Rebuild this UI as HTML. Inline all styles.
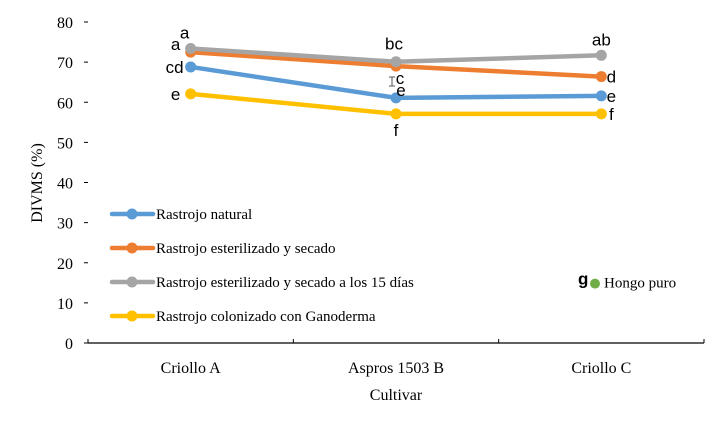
<!DOCTYPE html>
<html><head><meta charset="utf-8"><style>
body{margin:0;background:#fff;width:719px;height:429px;overflow:hidden}
svg{display:block}
.tk{font-family:"Liberation Serif",serif;font-size:16px;fill:#000}
.lg{font-family:"Liberation Serif",serif;font-size:15px;fill:#000}
.lt{font-family:"Liberation Sans",sans-serif;font-size:17px;fill:#000}
</style></head><body>
<svg id="chart" width="719" height="429"></svg>
<script>
const categories = ["Criollo A", "Aspros 1503 B", "Criollo C"];
const seriesNames = ["Rastrojo natural", "Rastrojo esterilizado y secado", "Rastrojo esterilizado y secado a los 15 días", "Rastrojo colonizado con Ganoderma"];
const natural = [68.8, 61.1, 61.6];
const esterilizado = [72.5, 69.0, 66.4];
const esterilizado15 = [73.4, 70.1, 71.7];
const colonizado = [62.1, 57.1, 57.1];
const letNatural = ["cd", "e", "e"];
const letEster = ["a", "c", "d"];
const letEster15 = ["a", "bc", "ab"];
const letColon = ["e", "f", "f"];
const yTicks = [0, 10, 20, 30, 40, 50, 60, 70, 80];
const hongoValue = 14.8;

const NS = "http://www.w3.org/2000/svg";
const svg = document.getElementById("chart");
const L = 88, R = 704, Y0 = 343, Y80 = 22;
const band = (R - L) / categories.length;
const x = i => L + band * (i + 0.5);
const y = v => Y0 - (v / 80) * (Y0 - Y80);
function mk(tag, attrs, parent) {
  const e = document.createElementNS(NS, tag);
  for (const k in attrs) e.setAttribute(k, attrs[k]);
  (parent || svg).appendChild(e);
  return e;
}
const yg = mk("g", {});


yTicks.forEach(t => {
  const tl = mk("text", {x: 73, y: y(t) + 6, "text-anchor": "end", class: "tk"}, yg);
  tl.textContent = t;
  
  
  mk("line", {x1: L - 4, x2: L, y1: y(t), y2: y(t), stroke: "#000", "stroke-width": 1}, yg);
});
const xg = mk("g", {});


mk("line", {x1: L, x2: R, y1: Y0, y2: Y0, stroke: "#000", "stroke-width": 1.3}, xg);
for (let i = 0; i <= categories.length; i++) {
  mk("line", {x1: L + band * i, x2: L + band * i, y1: Y0 - 4, y2: Y0, stroke: "#000", "stroke-width": 1}, xg);
}
categories.forEach((c, i) => {
  const t = mk("text", {x: x(i), y: 373, "text-anchor": "middle", class: "tk"}, xg);
  t.textContent = c;
  
  
});
const xt = mk("text", {x: 396, y: 400, "text-anchor": "middle", class: "tk", "font-size": "18"});
xt.textContent = "Cultivar";


const yt = mk("text", {x: 0, y: 0, "text-anchor": "middle", class: "tk", transform: "translate(42,183) rotate(-90)", "font-size": "18"});
yt.textContent = "DIVMS (%)";



const eb = mk("g", {stroke: "#555", "stroke-width": 1});


mk("line", {x1: 392, x2: 392, y1: 77, y2: 86}, eb);
mk("line", {x1: 389, x2: 395, y1: 77, y2: 77}, eb);
mk("line", {x1: 389, x2: 395, y1: 86, y2: 86}, eb);

const series = [
  {name: seriesNames[0], data: natural, color: "#5B9BD5", lab: letNatural, key: "natural"},
  {name: seriesNames[1], data: esterilizado, color: "#ED7D31", lab: letEster, key: "esterilizado"},
  {name: seriesNames[2], data: esterilizado15, color: "#A5A5A5", lab: letEster15, key: "esterilizado-15"},
  {name: seriesNames[3], data: colonizado, color: "#FFC000", lab: letColon, key: "colonizado"}
];
const offs = [
  [[-16, 6], [5, -2], [10, 6]],
  [[-15, -2], [4, 18], [10, 6]],
  [[-6, -10], [-2, -12], [0, -10]],
  [[-15, 6], [0, 22], [10, 6]]
];
series.forEach((s, si) => {
  const g = mk("g", {});
  
  
  mk("polyline", {points: s.data.map((v, i) => x(i) + "," + y(v)).join(" "), fill: "none", stroke: s.color, "stroke-width": 4.5, "stroke-linejoin": "round"}, g);
  s.data.forEach((v, i) => {
    const c = mk("circle", {cx: x(i), cy: y(v), r: 5.5, fill: s.color}, g);
    
    
  });
});
series.forEach((s, si) => {
  s.data.forEach((v, i) => {
    const o = offs[si][i];
    const t = mk("text", {x: x(i) + o[0], y: y(v) + o[1], "text-anchor": "middle", class: "lt"});
    t.textContent = s.lab[i];
    
    
  });
});
const lg = mk("g", {});


series.forEach((s, i) => {
  const ly = 214 + i * 34;
  const e = mk("g", {}, lg);
  
  
  mk("line", {x1: 112, x2: 153, y1: ly, y2: ly, stroke: s.color, "stroke-width": 4.5, "stroke-linecap": "round"}, e);
  mk("circle", {cx: 132, cy: ly, r: 5.5, fill: s.color}, e);
  const t = mk("text", {x: 156, y: ly + 5, class: "lg"}, e);
  t.textContent = s.name;
});
const hg = mk("g", {});


mk("circle", {cx: 595, cy: y(hongoValue), r: 5, fill: "#70AD47"}, hg);
const gl = mk("text", {x: 578, y: y(hongoValue) + 1, class: "lt", "font-weight": "bold"}, hg);
gl.textContent = "g";
const ht = mk("text", {x: 604, y: y(hongoValue) + 4, class: "lg"}, hg);
ht.textContent = "Hongo puro";
</script>
</body></html>
